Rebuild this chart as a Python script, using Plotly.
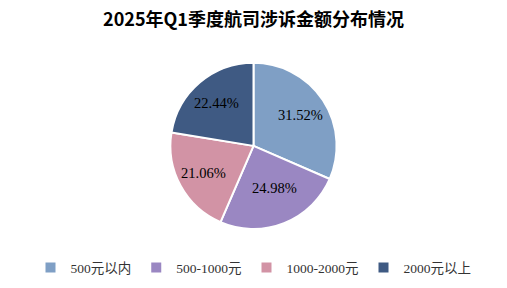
import math
import plotly.graph_objects as go

categories = ["500元以内", "500-1000元", "1000-2000元", "2000元以上"]
shares = [31.52, 24.98, 21.06, 22.44]
colors = ["#7f9fc5", "#9a87c2", "#d293a5", "#3f5a83"]

W, H = 507, 288
dom_y = [0.205, 0.782]
R_px = (dom_y[1] - dom_y[0]) * H / 2
cx, cy = 0.5, (dom_y[0] + dom_y[1]) / 2
label_r = 0.68 * R_px

fig = go.Figure(go.Pie(
    labels=categories,
    values=shares,
    sort=False,
    direction="clockwise",
    rotation=0,
    marker=dict(colors=colors, line=dict(color="white", width=2)),
    textinfo="none",
    hoverinfo="label+value",
    domain=dict(x=[0, 1], y=dom_y),
))

# percentage labels placed at each slice's mid-angle (derived from the data)
total = sum(shares)
cum = 0.0
for v in shares:
    mid = (cum + v / 2) / total * 2 * math.pi
    cum += v
    fig.add_annotation(
        x=cx + label_r * math.sin(mid) / W,
        y=cy + label_r * math.cos(mid) / H,
        xref="paper", yref="paper", showarrow=False,
        text=f"{v:.2f}%",
        font=dict(family="Liberation Serif, Noto Sans CJK SC", size=14.5, color="black"),
    )

fig.update_layout(
    width=W, height=H,
    margin=dict(l=0, r=0, t=0, b=0),
    paper_bgcolor="white",
    plot_bgcolor="white",
    title=dict(
        text="<b>2025年Q1季度航司涉诉金额分布情况</b>",
        x=0.5, xanchor="center", y=0.93, yanchor="middle",
        font=dict(family="Noto Sans CJK SC", size=18, color="black"),
    ),
    showlegend=True,
    legend=dict(
        orientation="h", x=0.5, xanchor="center", y=0.07, yanchor="middle",
        font=dict(family="Liberation Serif, Noto Sans CJK SC", size=13.5, color="#333"),
        itemwidth=30, traceorder="normal",
    ),
)

fig.write_html("out.html")
